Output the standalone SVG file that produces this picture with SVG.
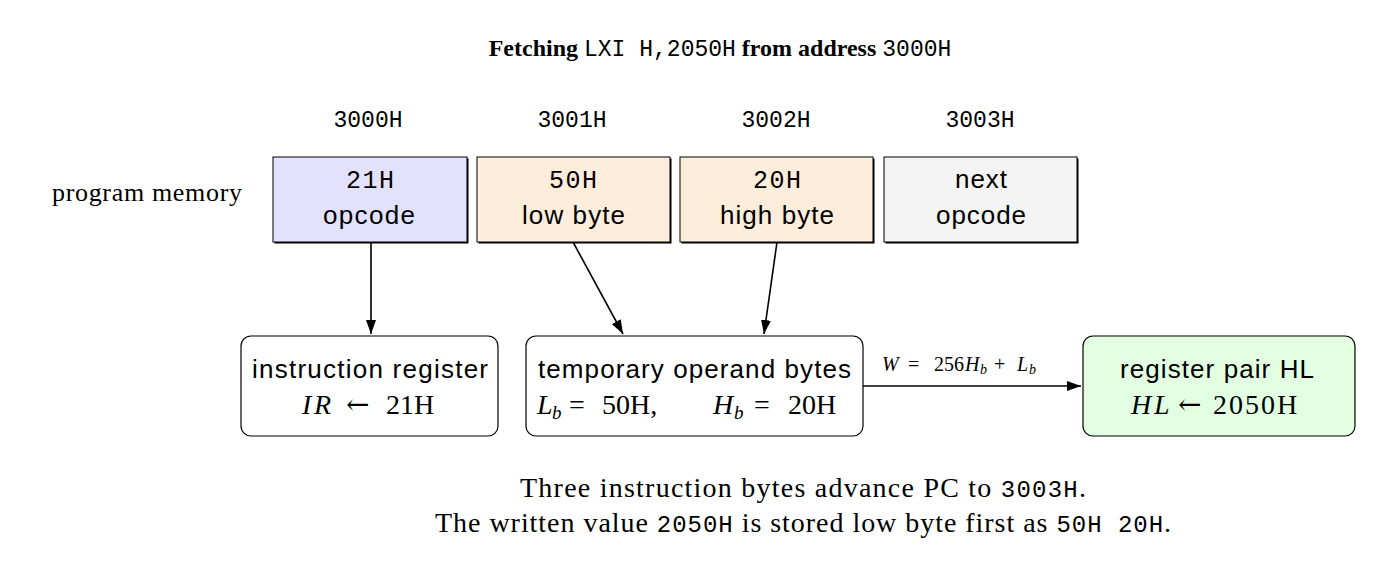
<svg xmlns="http://www.w3.org/2000/svg" width="1381" height="571" viewBox="0 0 1381 571">
<defs>
<marker id="ah" viewBox="0 0 14 10" refX="14" refY="5" markerWidth="14" markerHeight="10" markerUnits="userSpaceOnUse" orient="auto">
<path d="M0,0 L14,5 L0,10 z" fill="#000"/>
</marker>
<style>
.serif{font-family:"Liberation Serif","DejaVu Serif",serif;fill:#000}
.mono{font-family:"Liberation Mono","DejaVu Sans Mono",monospace;fill:#000}
.sans{font-family:"Liberation Sans","DejaVu Sans",sans-serif;fill:#000}
.arr{font-family:"DejaVu Serif","Liberation Serif",serif}
.mem{stroke:#000;stroke-width:1}
.shadow{fill:#000}
.reg{stroke:#000;stroke-width:1.2}
.conn{stroke:#000;stroke-width:1.6;fill:none;marker-end:url(#ah)}
.mi{font-family:"Liberation Serif","DejaVu Serif",serif;font-style:italic}
</style>
</defs>
<rect width="1381" height="571" fill="#fff"/>
<g id="title">
<text x="720" y="56" text-anchor="middle" font-size="24" class="serif" font-weight="bold">Fetching <tspan class="mono" font-weight="normal" font-size="23">LXI H,2050H</tspan> from address <tspan class="mono" font-weight="normal" font-size="23">3000H</tspan></text>
</g>
<g id="label-program-memory">
<text x="52" y="201" font-size="26" class="serif" textLength="190" lengthAdjust="spacing">program memory</text>
</g>
<g id="addresses" font-size="23" text-anchor="middle">
<text x="368" y="127" class="mono">3000H</text>
<text x="572" y="127" class="mono">3001H</text>
<text x="776" y="127" class="mono">3002H</text>
<text x="980" y="127" class="mono">3003H</text>
</g>
<g id="mem-3000">
<rect x="274.5" y="158.5" width="194" height="85" class="shadow"/>
<rect x="273" y="157" width="194" height="85" fill="#e2e2ff" class="mem"/>
<text x="346" y="188" font-size="25" class="mono" textLength="48">21H</text>
<text x="323" y="224" font-size="26" class="sans" textLength="92" lengthAdjust="spacing">opcode</text>
</g>
<g id="mem-3001">
<rect x="478.5" y="158.5" width="193" height="85" class="shadow"/>
<rect x="477" y="157" width="193" height="85" fill="#ffeddb" class="mem"/>
<text x="549" y="188" font-size="25" class="mono" textLength="48">50H</text>
<text x="522" y="224" font-size="26" class="sans" textLength="103" lengthAdjust="spacing">low byte</text>
</g>
<g id="mem-3002">
<rect x="681.5" y="158.5" width="193" height="85" class="shadow"/>
<rect x="680" y="157" width="193" height="85" fill="#ffeddb" class="mem"/>
<text x="753" y="188" font-size="25" class="mono" textLength="48">20H</text>
<text x="720" y="224" font-size="26" class="sans" textLength="114" lengthAdjust="spacing">high byte</text>
</g>
<g id="mem-3003">
<rect x="885.5" y="158.5" width="193" height="85" class="shadow"/>
<rect x="884" y="157" width="193" height="85" fill="#f4f4f4" class="mem"/>
<text x="955" y="188" font-size="26" class="sans" textLength="52" lengthAdjust="spacing">next</text>
<text x="936" y="224" font-size="26" class="sans" textLength="90" lengthAdjust="spacing">opcode</text>
</g>
<g id="instruction-register">
<rect x="241" y="336" width="257" height="100" rx="10" fill="#fff" class="reg"/>
<text x="252" y="378" font-size="26" class="sans" textLength="236" lengthAdjust="spacing">instruction register</text>
<text y="414" font-size="28" class="serif"><tspan class="mi" x="302">I</tspan><tspan class="mi" x="314">R</tspan><tspan class="arr" x="346">←</tspan><tspan x="386">21H</tspan></text>
</g>
<g id="temporary-operand">
<rect x="526" y="336" width="337" height="100" rx="10" fill="#fff" class="reg"/>
<text x="538" y="378" font-size="26" class="sans" textLength="313" lengthAdjust="spacing">temporary operand bytes</text>
<text y="414" font-size="28" class="serif"><tspan class="mi" x="537">L</tspan><tspan class="mi" font-size="19" x="552" dy="5">b</tspan><tspan x="569" dy="-5">=</tspan><tspan x="602">50H,</tspan><tspan class="mi" x="713">H</tspan><tspan class="mi" font-size="19" x="734" dy="5">b</tspan><tspan x="754" dy="-5">=</tspan><tspan x="788">20H</tspan></text>
</g>
<g id="register-pair-hl">
<rect x="1083" y="336" width="272" height="100" rx="10" fill="#e2ffe2" class="reg"/>
<text x="1120" y="378" font-size="26" class="sans" textLength="194" lengthAdjust="spacing">register pair HL</text>
<text y="414" font-size="28" class="serif"><tspan class="mi" x="1131">H</tspan><tspan class="mi" x="1154">L</tspan><tspan class="arr" x="1178">←</tspan><tspan x="1213" letter-spacing="2">2050H</tspan></text>
</g>
<g id="connectors">
<line x1="371" y1="242" x2="371" y2="334" class="conn"/>
<line x1="573" y1="242" x2="623" y2="334" class="conn"/>
<line x1="777" y1="242" x2="764" y2="334" class="conn"/>
<line x1="863" y1="386" x2="1081" y2="386" class="conn"/>
<text y="371" font-size="20" class="serif"><tspan class="mi" x="882">W</tspan><tspan x="908">=</tspan><tspan x="934">256</tspan><tspan class="mi" x="965">H</tspan><tspan class="mi" font-size="14" x="980" dy="3">b</tspan><tspan x="994" dy="-3">+</tspan><tspan class="mi" x="1017">L</tspan><tspan class="mi" font-size="14" x="1029" dy="3">b</tspan></text>
</g>
<g id="notes" font-size="28">
<text x="520" y="497" class="serif" textLength="566" lengthAdjust="spacing">Three instruction bytes advance PC to <tspan class="mono" font-size="24">3003H</tspan>.</text>
<text x="435" y="532" class="serif" textLength="736" lengthAdjust="spacing">The written value <tspan class="mono" font-size="24">2050H</tspan> is stored low byte first as <tspan class="mono" font-size="24">50H 20H</tspan>.</text>
</g>
</svg>
